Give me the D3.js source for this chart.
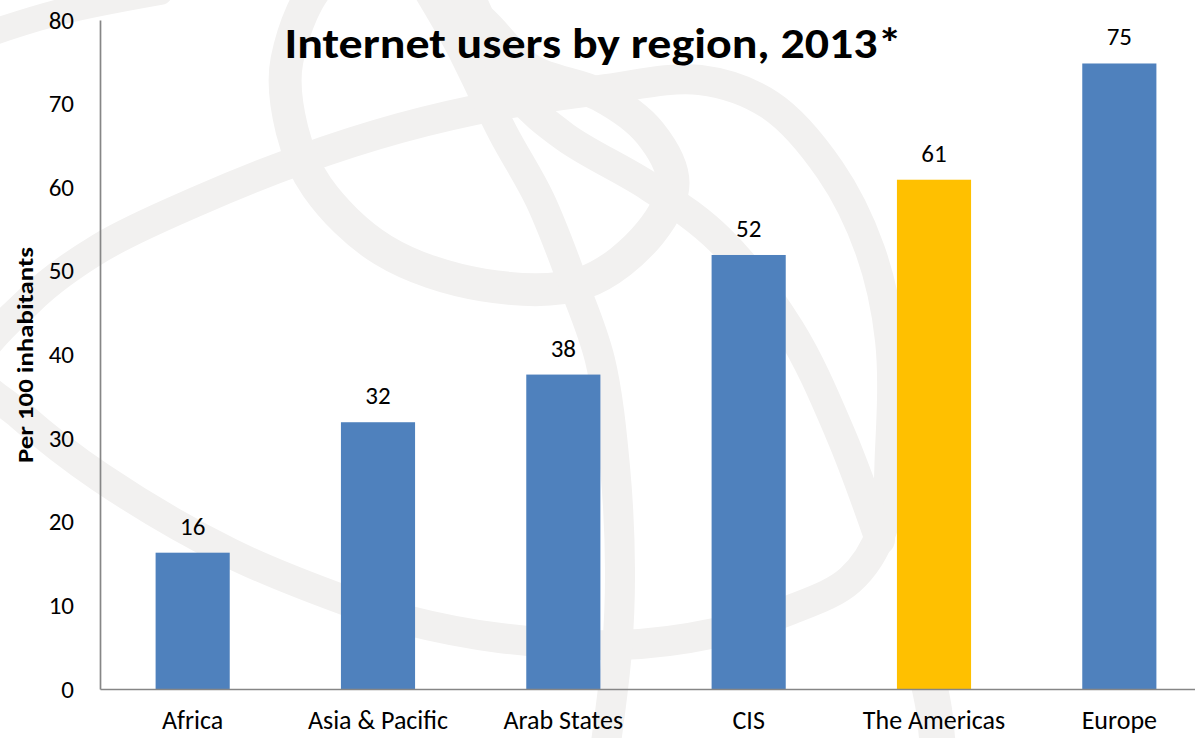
<!DOCTYPE html>
<html>
<head>
<meta charset="utf-8">
<script src="https://cdn.jsdelivr.net/npm/d3@7"></script>
<style>
  html, body { margin: 0; padding: 0; background: #fff; }
  svg { display: block; font-family: Calibri, Carlito, Lato, sans-serif; }
  .tick text { fill: #000; }
</style>
</head>
<body>
<svg width="1195" height="738"></svg>
<script>
// chart data
const categories = ['Africa', 'Asia & Pacific', 'Arab States', 'CIS', 'The Americas', 'Europe'];
const values = [16.3, 31.9, 37.6, 51.9, 60.9, 74.8];
const valueLabels = ['16', '32', '38', '52', '61', '75'];
const barColors = ['#4f81bd', '#4f81bd', '#4f81bd', '#4f81bd', '#ffc000', '#4f81bd'];
const yTicks = [0, 10, 20, 30, 40, 50, 60, 70, 80];

const svg = d3.select('svg');
const width = +svg.attr('width');
const height = +svg.attr('height');

const margin = {top: 20, left: 100, bottom: 49};
const plotRight = 1212;   // last band runs past the picture edge, as in the original
const innerHeight = height - margin.top - margin.bottom;

// background watermark (globe logo), very light grey
const wm = svg.append('g').attr('class', 'watermark')
    .attr('fill', 'none').attr('stroke', '#f2f1f0').attr('stroke-width', 30)
    .attr('stroke-linecap', 'round');
const open = d3.line().curve(d3.curveCatmullRom);
const closed = d3.line().curve(d3.curveCatmullRomClosed);

const globe = [[-25, 370], [30, 300], [100, 248], [200, 200], [300, 160], [400, 128], [500, 105],
    [600, 90], [700, 80], [770, 105], [830, 170], [870, 250], [890, 340], [890, 450], [882, 530],
    [850, 580], [790, 610], [715, 633], [620, 645], [500, 638], [406, 620], [344, 600],
    [230, 553], [100, 477], [20, 415]];
const loop = [[287, 60], [292, 130], [317, 187], [383, 250], [483, 285], [583, 283], [650, 233],
    [673, 183], [650, 133], [600, 95], [530, 70], [480, 20], [420, -25], [330, -25]];
const meridian1 = [[425, -15], [457, 40], [503, 133], [540, 200], [572, 280], [600, 360],
    [615, 467], [620, 570], [617, 650], [605, 750]];
const meridian2 = [[465, -15], [490, 40], [518, 95], [565, 137], [650, 187], [720, 240],
    [790, 330], [840, 433], [880, 540]];
const outerTop = [[-15, 35], [60, 12], [160, -8]];
const outerBottom = [[928, 680], [934, 710], [938, 750]];

wm.append('path').attr('d', closed(globe));
wm.append('path').attr('d', closed(loop)).attr('stroke-width', 33);
wm.append('path').attr('d', open(meridian1));
wm.append('path').attr('d', open(meridian2));
wm.append('path').attr('d', open(outerTop)).attr('stroke-width', 26);
wm.append('path').attr('d', open(outerBottom)).attr('stroke-width', 36);

// scales
const x = d3.scaleBand()
    .domain(categories)
    .range([margin.left, plotRight])
    .paddingInner(0.6)
    .paddingOuter(0.3);

const y = d3.scaleLinear()
    .domain([0, 80])
    .range([margin.top + innerHeight, margin.top]);

// bars
svg.append('g').selectAll('rect')
    .data(categories)
    .enter()
    .append('rect')
    .attr('x', d => x(d))
    .attr('y', (d, i) => y(values[i]))
    .attr('width', x.bandwidth())
    .attr('height', (d, i) => y(0) - y(values[i]))
    .attr('fill', (d, i) => barColors[i]);

// value labels
svg.append('g').selectAll('text')
    .data(categories)
    .enter()
    .append('text')
    .attr('x', d => x(d) + x.bandwidth() / 2)
    .attr('y', (d, i) => y(values[i]) - 18)
    .attr('text-anchor', 'middle')
    .attr('font-size', 25)
    .attr('fill', '#000')
    .text((d, i) => valueLabels[i]);

// y axis
const yAxisG = svg.append('g')
    .attr('transform', 'translate(' + margin.left + ',0)')
    .call(d3.axisLeft(y).tickValues(yTicks).tickSize(0).tickPadding(26));
yAxisG.attr('font-family', null).attr('font-size', null);
yAxisG.select('.domain').attr('stroke', '#868686').attr('stroke-width', 1.7);
yAxisG.selectAll('text').attr('font-size', 25);

// x axis
const xAxisG = svg.append('g')
    .attr('transform', 'translate(0,' + y(0) + ')')
    .call(d3.axisBottom(x).tickSize(0).tickPadding(22));
xAxisG.attr('font-family', null).attr('font-size', null);
xAxisG.select('.domain').attr('stroke', '#868686').attr('stroke-width', 1.7);
xAxisG.selectAll('text').attr('font-size', 26);

// y axis title
svg.append('text')
    .attr('transform', 'translate(33,' + 355 + ') rotate(-90)')
    .attr('text-anchor', 'middle')
    .attr('font-size', 22)
    .attr('font-weight', 'bold')
    .attr('fill', '#000')
    .attr('textLength', 216)
    .attr('lengthAdjust', 'spacingAndGlyphs')
    .text('Per 100 inhabitants');

// title
svg.append('text')
    .attr('x', 593)
    .attr('y', 58)
    .attr('text-anchor', 'middle')
    .attr('font-size', 43)
    .attr('font-weight', 'bold')
    .attr('fill', '#000')
    .attr('textLength', 617)
    .attr('lengthAdjust', 'spacingAndGlyphs')
    .text('Internet users by region, 2013*');
</script>
</body>
</html>
